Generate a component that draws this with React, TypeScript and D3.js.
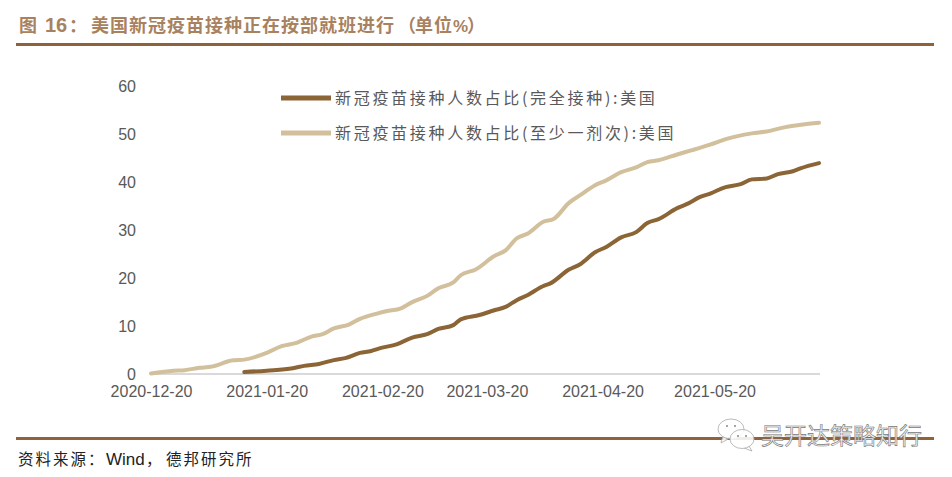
import * as d3 from 'd3'
import { useEffect, useRef } from 'react'

const yTicks = [0, 10, 20, 30, 40, 50, 60]
const xTicks = ['2020-12-20', '2021-01-20', '2021-02-20', '2021-03-20', '2021-04-20', '2021-05-20']

const fullLabel = '新冠疫苗接种人数占比(完全接种):美国'
const oneLabel = '新冠疫苗接种人数占比(至少一剂次):美国'

const oneDates = [
  '2020-12-20', '2020-12-26', '2020-12-29', '2021-01-02', '2021-01-05', '2021-01-11', '2021-01-14', '2021-01-20',
  '2021-01-24', '2021-01-28', '2021-02-01', '2021-02-04', '2021-02-07', '2021-02-11', '2021-02-14', '2021-02-19',
  '2021-02-21', '2021-02-25', '2021-02-28', '2021-03-04', '2021-03-07', '2021-03-11', '2021-03-13', '2021-03-17',
  '2021-03-22', '2021-03-25', '2021-03-28', '2021-03-31', '2021-04-04', '2021-04-07', '2021-04-11', '2021-04-14',
  '2021-04-18', '2021-04-21', '2021-04-25', '2021-04-29', '2021-05-02', '2021-05-05', '2021-05-10', '2021-05-14',
  '2021-05-19', '2021-05-23', '2021-05-30', '2021-06-03', '2021-06-08', '2021-06-17',
]
const oneValues = [
  0.1, 0.7, 0.8, 1.3, 1.5, 2.85, 3.0, 4.4,
  5.8, 6.5, 7.8, 8.3, 9.5, 10.3, 11.5, 12.7,
  13.1, 13.7, 15, 16.3, 17.9, 19.1, 20.6, 21.8,
  24.6, 25.8, 28.3, 29.3, 31.7, 32.4, 35.7, 37.3,
  39.4, 40.4, 42.1, 43.1, 44.2, 44.6, 45.8, 46.7,
  47.9, 49, 50.2, 50.6, 51.5, 52.4,
]

const fullDates = [
  '2021-01-14', '2021-01-20', '2021-01-27', '2021-01-30', '2021-02-03', '2021-02-07', '2021-02-10', '2021-02-14',
  '2021-02-17', '2021-02-19', '2021-02-24', '2021-02-28', '2021-03-04', '2021-03-07', '2021-03-11', '2021-03-13',
  '2021-03-18', '2021-03-22', '2021-03-25', '2021-03-28', '2021-03-31', '2021-04-04', '2021-04-06', '2021-04-11',
  '2021-04-14', '2021-04-18', '2021-04-21', '2021-04-25', '2021-04-29', '2021-05-02', '2021-05-05', '2021-05-10',
  '2021-05-13', '2021-05-16', '2021-05-19', '2021-05-23', '2021-05-27', '2021-05-30', '2021-06-03', '2021-06-06',
  '2021-06-10', '2021-06-12', '2021-06-17',
]
const fullValues = [
  0.4, 0.7, 1.2, 1.7, 2.1, 2.9, 3.3, 4.4,
  4.8, 5.3, 6.25, 7.6, 8.3, 9.4, 10.2, 11.4,
  12.3, 13.3, 14, 15.4, 16.5, 18.3, 18.9, 21.8,
  22.9, 25.4, 26.5, 28.5, 29.6, 31.5, 32.3, 34.6,
  35.6, 36.9, 37.7, 39, 39.6, 40.6, 40.8, 41.7,
  42.3, 42.9, 44,
]

const DARK = '#8b6535'
const LIGHT = '#d2bf9b'
const RULE = '#8f623a'
const TITLE = '#a8825f'
const INK = '#595959'
const SANS = '"Liberation Sans", Arial, sans-serif'
const CJK = '"Noto Sans CJK SC", sans-serif'

const parse = d3.utcParse('%Y-%m-%d')

export default function App() {
  const ref = useRef<SVGSVGElement | null>(null)

  useEffect(() => {
    if (!ref.current) return
    const svg = d3.select(ref.current)
    svg.selectAll('*').remove()

    const x = d3.scaleUtc()
      .domain([parse('2020-12-20') as Date, parse('2021-06-17') as Date])
      .range([151, 819])
    const y = d3.scaleLinear().domain([0, 60]).range([374, 86.4])

    // header and footer
    svg.append('rect').attr('x', 16).attr('y', 43).attr('width', 918).attr('height', 3).attr('fill', RULE)
    svg.append('rect').attr('x', 16).attr('y', 437).attr('width', 918).attr('height', 3).attr('fill', RULE)

    const title = svg.append('text').attr('y', 32).attr('fill', TITLE)
      .attr('font-weight', 700).attr('font-family', CJK).attr('font-size', 18)
    title.append('tspan').attr('x', 19).text('图')
    title.append('tspan').attr('x', 45).attr('font-family', SANS).attr('font-size', 20).text('16')
    title.append('tspan').attr('x', 69).text('：')
    title.append('tspan').attr('x', 91).attr('letter-spacing', 1).text('美国新冠疫苗接种正在按部就班进行')
    title.append('tspan').attr('x', 398).text('（')
    title.append('tspan').attr('x', 415).attr('letter-spacing', 1).text('单位')
    title.append('tspan').attr('x', 453).attr('font-family', SANS).attr('font-size', 17).text('%')
    title.append('tspan').attr('x', 467).text('）')

    const source = svg.append('text').attr('y', 465).attr('fill', '#222')
      .attr('font-family', CJK).attr('font-size', 15.5)
    source.append('tspan').attr('x', 18).attr('letter-spacing', 2).text('资料来源：')
    source.append('tspan').attr('x', 106).attr('font-family', SANS).attr('font-size', 17).text('Wind')
    source.append('tspan').attr('x', 146).text('，')
    source.append('tspan').attr('x', 166).attr('letter-spacing', 2).text('德邦研究所')

    // axes
    const yAxis = d3.axisLeft(y).tickValues(yTicks).tickSize(0).tickPadding(0)
    const yG = svg.append('g').attr('transform', 'translate(136,0)').call(yAxis)
    yG.select('.domain').remove()
    yG.selectAll('text').attr('fill', INK).attr('font-size', 16).attr('font-family', SANS).attr('dy', '0.34em')

    const xAxis = d3.axisBottom(x)
      .tickValues(xTicks.map(d => parse(d) as Date))
      .tickFormat(d => d3.utcFormat('%Y-%m-%d')(d as Date))
      .tickSize(0).tickPadding(0)
    const xG = svg.append('g').attr('transform', 'translate(0,386)').call(xAxis)
    xG.select('.domain').remove()
    xG.selectAll('text').attr('fill', INK).attr('font-size', 16).attr('font-family', SANS)
      .attr('dy', '0.71em').attr('y', 0)
    svg.append('line').attr('x1', 150).attr('x2', 820).attr('y1', y(0)).attr('y2', y(0))
      .attr('stroke', '#d9d9d9').attr('stroke-width', 2)

    // lines
    const line = d3.line<[Date, number]>().x(d => x(d[0])).y(d => y(d[1])).curve(d3.curveMonotoneX)
    const oneSeries = oneDates.map((d, i) => [parse(d) as Date, oneValues[i]] as [Date, number])
    const fullSeries = fullDates.map((d, i) => [parse(d) as Date, fullValues[i]] as [Date, number])
    svg.append('path').attr('d', line(oneSeries)).attr('fill', 'none').attr('stroke', LIGHT)
      .attr('stroke-width', 4).attr('stroke-linecap', 'round').attr('stroke-linejoin', 'round')
    svg.append('path').attr('d', line(fullSeries)).attr('fill', 'none').attr('stroke', DARK)
      .attr('stroke-width', 4).attr('stroke-linecap', 'round').attr('stroke-linejoin', 'round')

    // legend
    const legend: [string, string, number][] = [[fullLabel, DARK, 98], [oneLabel, LIGHT, 133]]
    for (const [label, color, ly] of legend) {
      svg.append('line').attr('x1', 281).attr('x2', 331).attr('y1', ly).attr('y2', ly)
        .attr('stroke', color).attr('stroke-width', 5)
      svg.append('text').attr('x', 335).attr('y', ly + 6).attr('fill', INK)
        .attr('font-family', CJK).attr('font-size', 16).attr('letter-spacing', 2.7).text(label)
    }

    // watermark
    const mark = svg.append('g').attr('fill', 'rgba(255,255,255,0.88)').attr('stroke', '#aaa').attr('stroke-width', 0.8)
    mark.append('path').attr('d', 'M723 436 L721 443 L728 439 Z')
    mark.append('ellipse').attr('cx', 731).attr('cy', 429).attr('rx', 13).attr('ry', 10)
    mark.append('path').attr('d', 'M749 446 L752 451 L744 448 Z')
    mark.append('ellipse').attr('cx', 742).attr('cy', 439).attr('rx', 12).attr('ry', 9.5)
    for (const [cx, cy] of [[727, 426], [735, 426], [738, 436], [746, 436]]) {
      svg.append('circle').attr('cx', cx).attr('cy', cy).attr('r', 1).attr('fill', '#888')
    }
    svg.append('text').attr('x', 761).attr('y', 444).attr('fill', '#f4f4f4')
      .attr('stroke', '#777').attr('stroke-width', 0.6)
      .attr('font-family', CJK).attr('font-size', 23).text('吴开达策略知行')
  }, [])

  return <svg ref={ref} width={952} height={477} style={{ position: 'absolute', left: 0, top: 0, background: '#fff' }} />
}
